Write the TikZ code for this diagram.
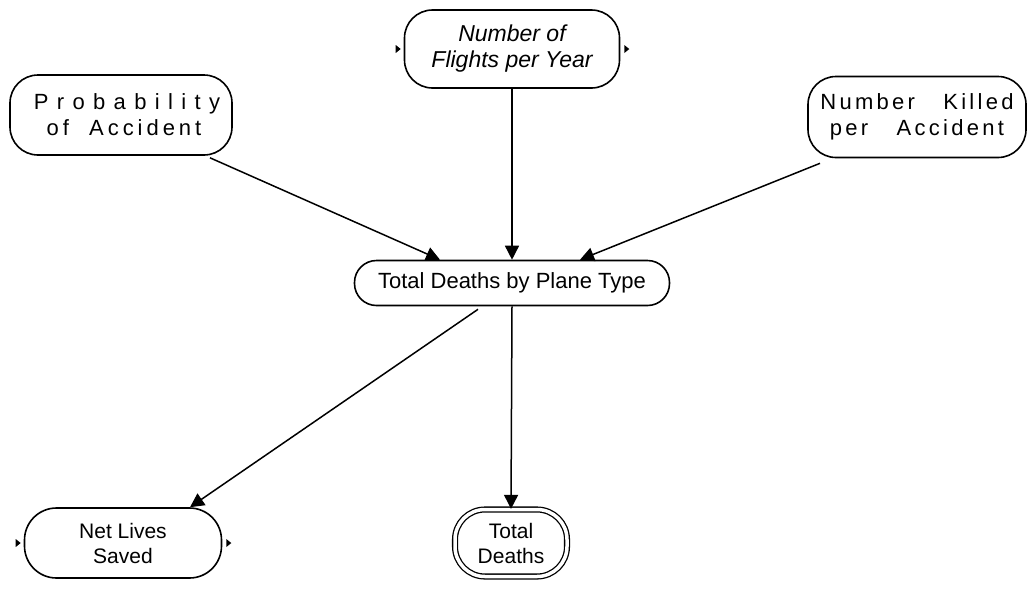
\documentclass[tikz,border=0pt]{standalone}
\usepackage{fontspec}
\setmainfont{Liberation Sans}
\usetikzlibrary{arrows.meta,calc}
\begin{document}
\begin{tikzpicture}[x=1pt,y=-1pt,
  var/.style={draw, line width=1.6pt, rounded corners=28pt, align=center,
    inner sep=0pt, font=\fontsize{21}{25}\selectfont},
  link/.style={line width=1.5pt, -{Triangle[length=14pt,width=14pt]}},
  marker/.style={fill=black}]
\useasboundingbox (0,0) rectangle (1028,590);

% chance variables
\node[var, minimum width=215pt, minimum height=78pt, font=\fontsize{23}{26}\selectfont\itshape]
  (flights) at (512,49) {Number of\\Flights per Year};
\node[var, minimum width=222pt, minimum height=80pt, font=\fontsize{22}{26}\selectfont]
  (prob) at (121,115) {\hspace*{12pt}\addfontfeature{LetterSpace=38}Probability\\\hspace*{6pt}\addfontfeature{LetterSpace=18}of\ \ Accident};
\node[var, minimum width=218pt, minimum height=81pt, font=\fontsize{22}{26}\selectfont]
  (killed) at (917,117) {\addfontfeature{LetterSpace=15}Number\ \ \ Killed\\\addfontfeature{LetterSpace=15}per\ \ \ Accident};

% intermediate and result nodes
\node[var, minimum width=315pt, minimum height=45pt, rounded corners=22pt, font=\fontsize{22}{26}\selectfont]
  (tdpt) at (512,283) {Total Deaths by Plane Type};
\node[var, minimum width=197pt, minimum height=70pt, rounded corners=32pt]
  (net) at (123,543) {Net Lives\\Saved};
\node[var, double, double distance=3.5pt, line width=1.3pt, minimum width=112pt, minimum height=67pt, rounded corners=30pt]
  (total) at (511,543) {Total\\Deaths};

% small side markers
\foreach \n in {flights, net}{
  \fill[marker] ($(\n.west)+(-8,-4)$) -- ++(5,4) -- ++(-5,4) -- cycle;
  \fill[marker] ($(\n.east)+(4,-4)$) -- ++(5,4) -- ++(-5,4) -- cycle;
}

% influence arcs
\draw[link] ($(prob.south)+(89,2)$) -- ($(tdpt.north)+(-72,0)$);
\draw[link] (flights.south) -- (tdpt.north);
\draw[link] ($(killed.south)+(-97,5)$) -- ($(tdpt.north)+(68,0)$);
\draw[link] ($(tdpt.south)+(-34,3)$) -- ($(net.north)+(67,0)$);
\draw[link] (tdpt.south) -- (total.north);
\end{tikzpicture}
\end{document}
